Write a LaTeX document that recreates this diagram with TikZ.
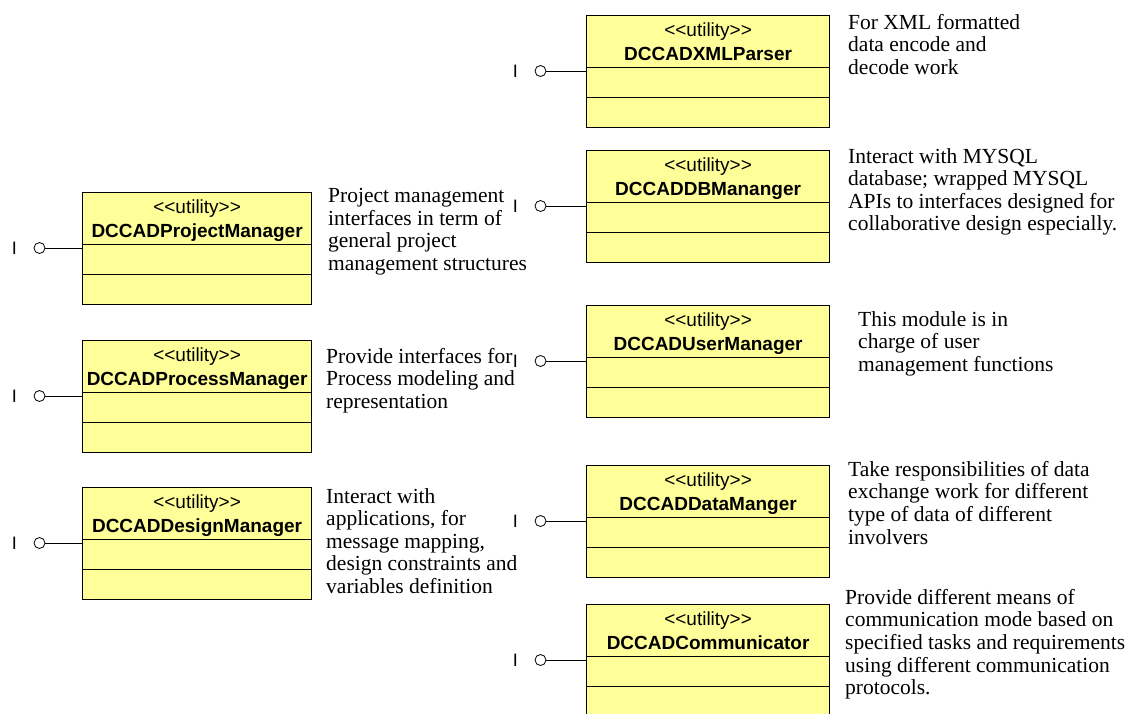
\documentclass[tikz,border=0pt]{standalone}
\usepackage{fontspec}
\usepackage{tikz}
\usetikzlibrary{calc,positioning}
\newfontfamily\umlfont{Liberation Sans}
\newfontfamily\notefont{Liberation Serif}
\definecolor{umlyellow}{HTML}{FFFF99}
\newcommand{\utility}{<\kern0pt<utility>\kern0pt>}
\tikzset{
  classbox/.style={
    draw=black, line width=1.2pt, fill=umlyellow, anchor=north west,
    minimum width=243pt, minimum height=112pt, inner sep=0pt
  },
  leftclass/.style={classbox, minimum width=229pt},
  classname/.style={font=\umlfont\fontsize{19}{23.5}\selectfont, align=center, anchor=north, inner sep=0pt},
  compline/.style={draw=black, line width=1pt},
  ball/.style={circle, draw=black, line width=0.8pt, fill=white, minimum size=11pt, inner sep=0pt, outer sep=0pt},
  portline/.style={draw=black, line width=0.8pt},
  iface/.style={font=\umlfont\fontsize{18}{20}\selectfont, inner sep=0pt},
  note/.style={font=\notefont\fontsize{21.5}{22.6}\selectfont, align=left, anchor=north west, inner sep=0pt}
}

\begin{document}
\begin{tikzpicture}[x=1pt, y=-1pt]
  \clip (0,0) rectangle (1130,713);

  % Right column of utility classes
  \node[classbox] (xmlparser) at (586,15) {};
  \node[classbox] (dbmanager) at (586,150) {};
  \node[classbox] (usermanager) at (586,305) {};
  \node[classbox] (datamanager) at (586,465) {};
  \node[classbox] (communicator) at (586,604) {};

  % Left column of utility classes
  \node[leftclass] (projectmanager) at (82,192) {};
  \node[leftclass] (processmanager) at (82,340) {};
  \node[leftclass] (designmanager) at (82,487) {};

  % Class names
  \node[classname] at ([yshift=-8pt]xmlparser.north) {\utility\\\textbf{DCCADXMLParser}};
  \node[classname] at ([yshift=-8pt]dbmanager.north) {\utility\\\textbf{DCCADDBMananger}};
  \node[classname] at ([yshift=-8pt]usermanager.north) {\utility\\\textbf{DCCADUserManager}};
  \node[classname] at ([yshift=-8pt]datamanager.north) {\utility\\\textbf{DCCADDataManger}};
  \node[classname] at ([yshift=-8pt]communicator.north) {\utility\\\textbf{DCCADCommunicator}};
  \node[classname] at ([yshift=-8pt]projectmanager.north) {\utility\\\textbf{DCCADProjectManager}};
  \node[classname] at ([yshift=-8pt]processmanager.north) {\utility\\\textbf{DCCADProcessManager}};
  \node[classname] at ([yshift=-8pt]designmanager.north) {\utility\\\textbf{DCCADDesignManager}};

  % Compartments
  \foreach \cls in {xmlparser,dbmanager,usermanager,datamanager,communicator,projectmanager,processmanager,designmanager} {
    \draw[compline] ([yshift=-52pt]\cls.north west) -- ([yshift=-52pt]\cls.north east);
    \draw[compline] ([yshift=-82pt]\cls.north west) -- ([yshift=-82pt]\cls.north east);
  }

  % Provided interfaces
  \foreach \cls/\gap in {xmlparser/40pt,dbmanager/40pt,usermanager/40pt,datamanager/40pt,communicator/40pt,projectmanager/37pt,processmanager/37pt,designmanager/37pt} {
    \coordinate (\cls port) at ([yshift=-56pt]\cls.north west);
    \node[ball, left=\gap of \cls port] (\cls ball) {};
    \node[iface, left=17pt of \cls ball] (\cls iface) {I};
    \draw[portline] (\cls ball) -- (\cls port);
  }

  % Descriptions
  \node[note] (xmlnote) at (848,14) {For XML formatted\\data encode and\\decode work};
  \node[note] (dbnote) at (848,148) {Interact with MYSQL\\database; wrapped MYSQL\\APIs to interfaces designed for\\collaborative design especially.};
  \node[note] (usernote) at (858,311) {This module is in\\charge of user\\management functions};
  \node[note] (datanote) at (848,461) {Take responsibilities of data\\exchange work for different\\type of data of different\\involvers};
  \node[note] (commnote) at (845,589) {Provide different means of\\communication mode based on\\specified tasks and requirements\\using different communication\\protocols.};
  \node[note] (projectnote) at (328,188) {Project management\\interfaces in term of\\general project\\management structures};
  \node[note] (processnote) at (326,348) {Provide interfaces for\\Process modeling and\\representation};
  \node[note] (designnote) at (326,488) {Interact with\\applications, for\\message mapping,\\design constraints and\\variables definition};
\end{tikzpicture}
\end{document}
